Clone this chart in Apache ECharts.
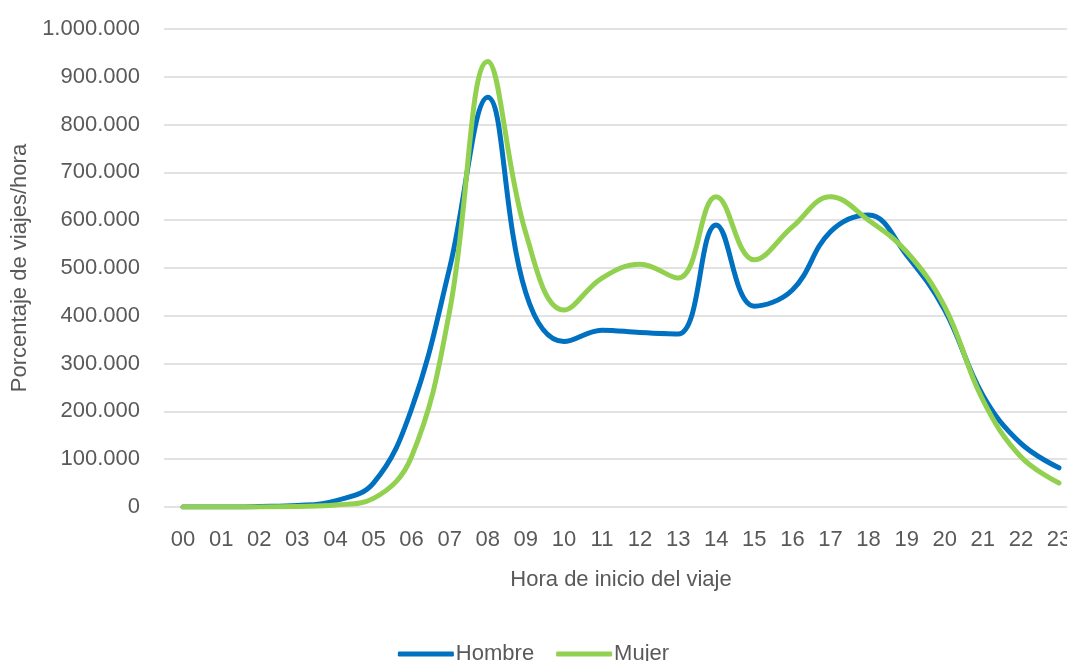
<!DOCTYPE html>
<html>
<head>
<meta charset="utf-8">
<script src="https://cdn.jsdelivr.net/npm/echarts@6/dist/echarts.min.js"></script>
<style>html,body{margin:0;padding:0;background:#fff}#c{width:1067px;height:661px}</style>
</head>
<body>
<div id="c"></div>
<script>
const hours = ['00','01','02','03','04','05','06','07','08','09','10','11','12','13','14','15','16','17','18','19','20','21','22','23'];
const hombre = [0, 0, 1000, 3000, 13000, 50000, 205000, 500000, 857000, 448000, 346000, 370000, 365000, 362000, 590000, 420000, 454000, 576000, 611000, 527000, 412000, 234000, 133000, 82000];
const mujer = [0, 0, 0, 1000, 4000, 18000, 105000, 410000, 932000, 573000, 412000, 479000, 508000, 479000, 649000, 517000, 586000, 649000, 600000, 534000, 419000, 224000, 105000, 50000];
const seriesNames = ['Hombre', 'Mujer'];
const yTicks = {min: 0, max: 1000000, interval: 100000};

const FONT = "'Liberation Sans', Arial, sans-serif";
const FS = 22;
const chart = echarts.init(document.getElementById('c'), null, {renderer: 'canvas'});
function fmt(v){ return String(v).replace(/\B(?=(\d{3})+(?!\d))/g, '.'); }
chart.setOption({
  animation: false,
  backgroundColor: '#ffffff',
  grid: {left: 164, top: 29, width: 914, height: 478, containLabel: false, outerBoundsMode: 'none'},
  legend: {
    top: 638, left: 'center',
    itemWidth: 56, itemHeight: 5, itemGap: 22,
    icon: 'roundRect',
    textStyle: {fontFamily: FONT, fontSize: FS, color: '#595959', padding: [0,0,0,-3]},
    data: seriesNames
  },
  xAxis: {
    type: 'category', data: hours, boundaryGap: true,
    name: 'Hora de inicio del viaje', nameLocation: 'middle', nameGap: 62,
    nameTextStyle: {fontFamily: FONT, fontSize: FS, color: '#595959'},
    axisLine: {show: false}, axisTick: {show: false},
    axisLabel: {fontFamily: FONT, fontSize: FS, color: '#595959', margin: 22, interval: 0}
  },
  yAxis: {
    type: 'value', min: yTicks.min, max: yTicks.max, interval: yTicks.interval,
    name: 'Porcentaje de viajes/hora', nameLocation: 'middle', nameGap: 132, nameRotate: 90,
    nameTextStyle: {fontFamily: FONT, fontSize: FS, color: '#595959'},
    axisLine: {show: false}, axisTick: {show: false},
    axisLabel: {fontFamily: FONT, fontSize: FS, color: '#595959', margin: 24, formatter: fmt},
    splitLine: {lineStyle: {color: '#D9D9D9', width: 1.5}}
  },
  series: [
    {name: seriesNames[0], type: 'line', data: hombre, smooth: 0.4, showSymbol: false,
     lineStyle: {color: '#0070C0', width: 5, cap: 'round'}, itemStyle: {color: '#0070C0'}},
    {name: seriesNames[1], type: 'line', data: mujer, smooth: 0.4, showSymbol: false,
     lineStyle: {color: '#92D050', width: 5, cap: 'round'}, itemStyle: {color: '#92D050'}}
  ]
});
</script>
</body>
</html>
